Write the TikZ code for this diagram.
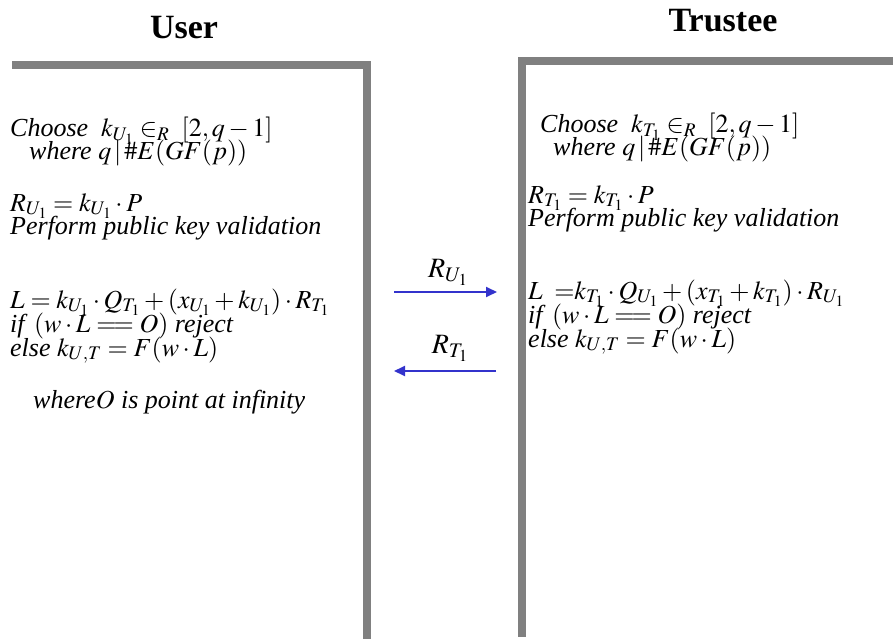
\documentclass[tikz,border=0pt]{standalone}
\usepackage{mathptmx}
\usepackage{fontspec}
\setmainfont{Liberation Serif}
\usetikzlibrary{arrows.meta}
\definecolor{framegray}{RGB}{128,128,128}
\definecolor{msgblue}{RGB}{51,51,204}
\tikzset{
  eqline/.style={anchor=base west, inner sep=0pt, font=\fontsize{26}{26}\selectfont},
  msglabel/.style={anchor=base, inner sep=0pt, font=\fontsize{28}{28}\selectfont},
  party/.style={anchor=base, inner sep=0pt, font=\fontsize{34}{34}\selectfont\bfseries},
  frame/.style={draw=framegray, line width=8pt, line join=miter},
  msg/.style={draw=msgblue, line width=1.8pt, -{Triangle[length=11pt,width=10pt]}},
}
\begin{document}
\begin{tikzpicture}[x=1pt,y=-1pt]
\useasboundingbox (0,0) rectangle (893,639);

% party names
\node[party] (user) at (184,39) {User};
\node[party] (trustee) at (723,32) {Trustee};

% frames
\draw[frame] (12,65) -- (366.5,65) -- (366.5,645);
\draw[frame] (900,61) -- (522,61) -- (522,637);

% user side
\node[eqline] (u1) at (10,137) {\textit{Choose}\ \ $k_{U_1}\in_R\ [2,q-1]$};
\node[eqline] (u2) at (29,160) {\textit{where} $q\,|\,\#E(GF(p))$};
\node[eqline] (u3) at (10,211) {$R_{U_1}=k_{U_1}\cdot P$};
\node[eqline] (u4) at (10,234) {\textit{Perform public key validation}};
\node[eqline] (u5) at (10,308) {$L=k_{U_1}\cdot Q_{T_1}+(x_{U_1}+k_{U_1})\cdot R_{T_1}$};
\node[eqline] (u6) at (10,332) {\textit{if} $(w\cdot L=\!=O)$ \textit{reject}};
\node[eqline] (u7) at (10,356) {\textit{else} $k_{U,T}=F(w\cdot L)$};
\node[eqline] (u8) at (33,408) {\textit{where}$O$ \textit{is point at infinity}};

% trustee side
\node[eqline] (t1) at (540,133) {\textit{Choose}\ \ $k_{T_1}\in_R\ [2,q-1]$};
\node[eqline] (t2) at (553,156) {\textit{where} $q\,|\,\#E(GF(p))$};
\node[eqline] (t3) at (528,203) {$R_{T_1}=k_{T_1}\cdot P$};
\node[eqline] (t4) at (528,226) {\textit{Perform public key validation}};
\node[eqline] (t5) at (528,299) {$L\;\;{=}k_{T_1}\cdot Q_{U_1}+(x_{T_1}+k_{T_1})\cdot R_{U_1}$};
\node[eqline] (t6) at (528,323) {\textit{if} $(w\cdot L=\!=O)$ \textit{reject}};
\node[eqline] (t7) at (528,347) {\textit{else} $k_{U,T}=F(w\cdot L)$};

% exchanged points
\coordinate (sendL) at (394,292);
\coordinate (sendR) at (497,292);
\coordinate (backR) at (496,371);
\coordinate (backL) at (394,371);
\draw[msg] (sendL) -- (sendR);
\draw[msg] (backR) -- (backL);
\node[msglabel] (m1) at (448,277) {$R_{U_1}$};
\node[msglabel] (m2) at (450,353) {$R_{T_1}$};
\end{tikzpicture}
\end{document}
